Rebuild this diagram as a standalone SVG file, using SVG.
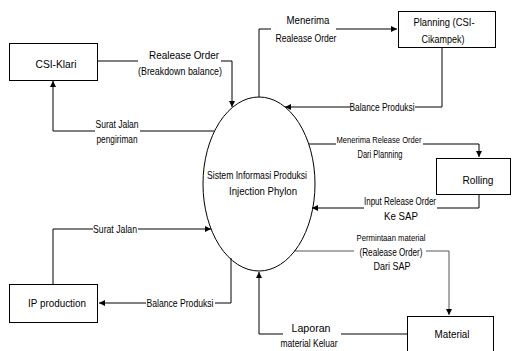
<svg xmlns="http://www.w3.org/2000/svg" width="512" height="351" viewBox="0 0 512 351">
<style>
text{font-family:"Liberation Sans Narrow","Liberation Sans",Arial,sans-serif;font-size:10.5px;fill:#000;text-anchor:middle}
.box{fill:#fff;stroke:#000;stroke-width:1}
.c{fill:none;stroke:#000;stroke-width:1;marker-end:url(#ah)}
.g{stroke:#555}
.s{font-size:9.5px}
</style>
<defs>
<marker id="ah" markerUnits="userSpaceOnUse" markerWidth="7" markerHeight="7" refX="6" refY="3.5" orient="auto">
<path d="M0,0.5 L6,3.5 L0,6.5 Z" fill="#000"/>
</marker>
</defs>
<rect width="512" height="351" fill="#fff"/>
<g id="connectors">
<path class="c" d="M97,61 H138 M221,61 H232 V107"/>
<path class="c" d="M214,131 H140 M95,131 H53 V81"/>
<path class="c" d="M259,97 V29 H271 M336,29 H397"/>
<path class="c" d="M442,47 V107 H415 M350,107 H285"/>
<path class="c" d="M309,144 H336 M423,144 H479 V157"/>
<path class="c" d="M479,194 V208 H437 M364,208 H312"/>
<path class="c g" d="M294,251 H354 M426,251 H449 V315"/>
<path class="c" d="M407,334 H341 M283,334 H259 V272"/>
<path class="c" d="M53,284 V229 H93 M138,229 H211"/>
<path class="c" d="M231,258 V303 H215 M146,303 H99"/>
<text x="184" y="59" textLength="70" lengthAdjust="spacingAndGlyphs" style="font-size:11px">Realease Order</text>
<text x="180" y="75" textLength="84" lengthAdjust="spacingAndGlyphs">(Breakdown balance)</text>
<text x="117" y="128" textLength="43" lengthAdjust="spacingAndGlyphs">Surat Jalan</text>
<text x="117" y="143" textLength="41" lengthAdjust="spacingAndGlyphs">pengiriman</text>
<text x="308" y="24" textLength="43" lengthAdjust="spacingAndGlyphs">Menerima</text>
<text x="306" y="42" textLength="61" lengthAdjust="spacingAndGlyphs">Realease Order</text>
<text x="382" y="111" textLength="65" lengthAdjust="spacingAndGlyphs">Balance Produksi</text>
<text class="s" x="379" y="143" textLength="85" lengthAdjust="spacingAndGlyphs">Menerima Release Order</text>
<text x="380" y="158" textLength="45" lengthAdjust="spacingAndGlyphs">Dari Planning</text>
<text x="400" y="205" textLength="72" lengthAdjust="spacingAndGlyphs">Input Release Order</text>
<text x="401" y="220" textLength="34" lengthAdjust="spacingAndGlyphs">Ke SAP</text>
<text class="s" x="391" y="241" textLength="69" lengthAdjust="spacingAndGlyphs">Permintaan material</text>
<text x="391" y="256" textLength="63" lengthAdjust="spacingAndGlyphs">(Realease Order)</text>
<text x="392" y="270" textLength="37" lengthAdjust="spacingAndGlyphs">Dari SAP</text>
<text x="311" y="332" textLength="39" lengthAdjust="spacingAndGlyphs" style="font-size:11px">Laporan</text>
<text x="309" y="347" textLength="57" lengthAdjust="spacingAndGlyphs">material Keluar</text>
<text x="115" y="233" textLength="44" lengthAdjust="spacingAndGlyphs">Surat Jalan</text>
<text x="180" y="307" textLength="67" lengthAdjust="spacingAndGlyphs">Balance Produksi</text>
</g>
<g id="system">
<ellipse cx="259" cy="184" rx="56" ry="87" fill="none" stroke="#000"/>
<text x="257" y="179" textLength="100" lengthAdjust="spacingAndGlyphs">Sistem Informasi Produksi</text>
<text x="263" y="195" textLength="68" lengthAdjust="spacingAndGlyphs" style="font-size:11px">Injection  Phylon</text>
</g>
<g id="csi-klari">
<rect class="box" x="9.5" y="43.5" width="88" height="37"/>
<text x="56" y="68" textLength="41" lengthAdjust="spacingAndGlyphs" style="font-size:11px">CSI-Klari</text>
</g>
<g id="planning">
<rect class="box" x="398.5" y="11.5" width="97" height="36"/>
<text x="444" y="26" textLength="61" lengthAdjust="spacingAndGlyphs">Planning (CSI-</text>
<text x="443" y="43" textLength="43" lengthAdjust="spacingAndGlyphs">Cikampek)</text>
</g>
<g id="rolling">
<rect class="box" x="436.5" y="158.5" width="74" height="36"/>
<text x="478" y="184" textLength="31" lengthAdjust="spacingAndGlyphs" style="font-size:11px">Rolling</text>
</g>
<g id="material">
<rect class="box" x="407.5" y="316.5" width="86" height="40"/>
<text x="452" y="338" textLength="35" lengthAdjust="spacingAndGlyphs" style="font-size:11px">Material</text>
</g>
<g id="ip-production">
<rect class="box" x="9.5" y="284.5" width="88" height="38"/>
<text x="57" y="307" textLength="58" lengthAdjust="spacingAndGlyphs" style="font-size:11px">IP production</text>
</g>
</svg>
